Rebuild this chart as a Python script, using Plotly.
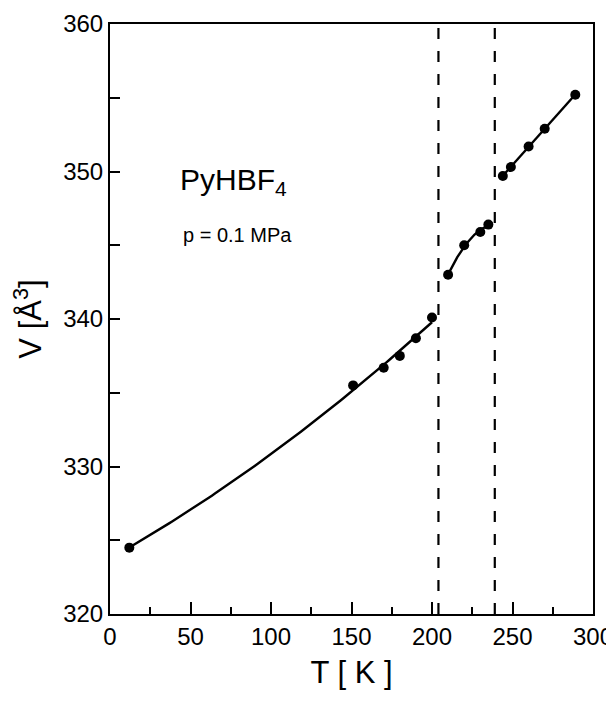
import numpy as np
import plotly.graph_objects as go

# Data
T1 = [12, 151, 170, 180, 190, 200]
V1 = [324.5, 335.5, 336.7, 337.5, 338.7, 340.1]
T2 = [210, 220, 230, 235]
V2 = [343.0, 345.0, 345.9, 346.4]
T3 = [244, 249, 260, 270, 289]
V3 = [349.7, 350.3, 351.7, 352.9, 355.2]
transitions = [204, 239]
x_ticks = [0, 50, 100, 150, 200, 250, 300]
y_ticks = [320, 330, 340, 350, 360]

FONT = "Liberation Sans, Arial"

fig = go.Figure()

def fit_curve(T, V, deg):
    c = np.polyfit(T, V, deg)
    xs = np.linspace(min(T), max(T), 100)
    return xs, np.polyval(c, xs)

for T, V, deg in [(T1, V1, 2), (T2, V2, 2), (T3, V3, 1)]:
    xs, ys = fit_curve(T, V, deg)
    fig.add_trace(go.Scatter(x=xs, y=ys, mode="lines",
                             line=dict(color="black", width=2.4),
                             showlegend=False, hoverinfo="skip"))
    fig.add_trace(go.Scatter(x=T, y=V, mode="markers",
                             marker=dict(color="black", size=10),
                             showlegend=False))

for t in transitions:
    fig.add_shape(type="line", x0=t, x1=t, y0=0, y1=1, yref="paper",
                  line=dict(color="black", width=2.2, dash="11px,12px"))

fig.add_annotation(text="PyHBF<sub>4</sub>", x=42, y=349.3, xref="x", yref="y",
                   xanchor="left", yanchor="middle", showarrow=False,
                   font=dict(family=FONT, size=30, color="black"))
fig.add_annotation(text="p = 0.1 MPa", x=44, y=345.7, xref="x", yref="y",
                   xanchor="left", yanchor="middle", showarrow=False,
                   font=dict(family=FONT, size=20, color="black"))

fig.update_xaxes(range=[0, 300], tickvals=x_ticks, ticks="inside", ticklen=12,
                 tickwidth=2, tickcolor="black", automargin=False,
                 minor=dict(dtick=25, tick0=0, ticks="inside", ticklen=7,
                            tickwidth=2, tickcolor="black"),
                 showline=True, linecolor="black", linewidth=2, mirror=True,
                 showgrid=False, zeroline=False,
                 tickfont=dict(family=FONT, size=24, color="black"),
                 title=dict(text="T [ K ]", font=dict(family=FONT, size=31, color="black"),
                            standoff=13))
fig.update_yaxes(range=[320, 360], tickvals=y_ticks, ticks="inside", ticklen=10,
                 tickwidth=2, tickcolor="black", automargin=False,
                 minor=dict(dtick=5, tick0=320, ticks="inside", ticklen=10,
                            tickwidth=2, tickcolor="black"),
                 showline=True, linecolor="black", linewidth=2, mirror=True,
                 showgrid=False, zeroline=False,
                 tickfont=dict(family=FONT, size=24, color="black"),
                 title=dict(text="V [Å<sup>3</sup>]", font=dict(family=FONT, size=31, color="black"),
                            standoff=12))

fig.update_layout(width=614, height=701, plot_bgcolor="white", paper_bgcolor="white",
                  margin=dict(l=102, r=29, t=16, b=95))

fig.write_html("out.html")
